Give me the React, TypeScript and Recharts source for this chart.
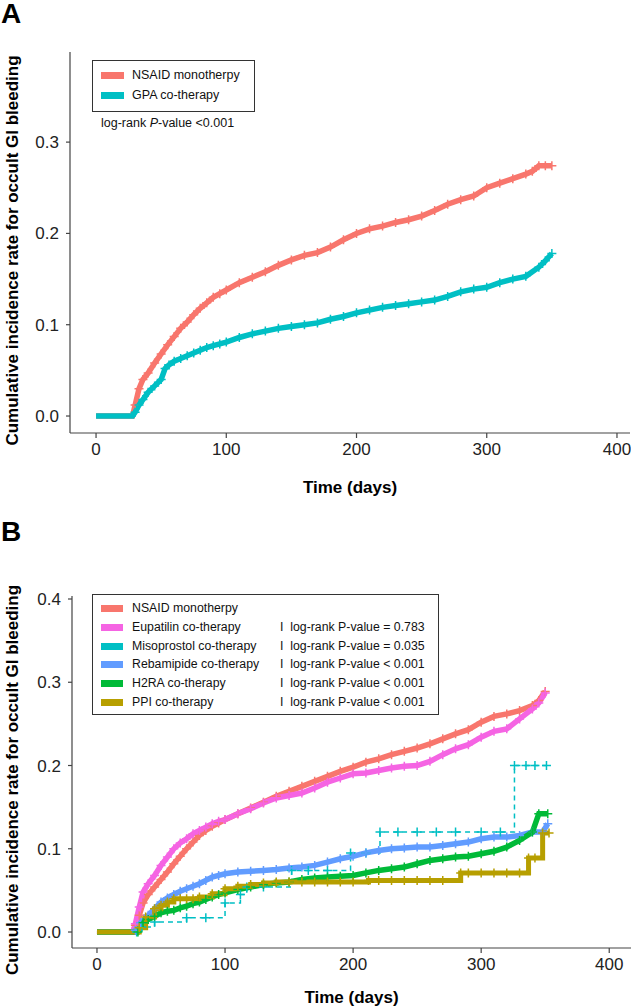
import React from "react";
import { LineChart, Line, XAxis, YAxis, Legend, Label } from "recharts";

const FONT = '"Liberation Sans", Arial, Helvetica, sans-serif';

// ---- axes ----
const xTicks = [0, 100, 200, 300, 400];
const yTicksA = [0, 0.1, 0.2, 0.3];
const yTicksB = [0, 0.1, 0.2, 0.3, 0.4];

// ---- panel A: [day, cumulative incidence] ----
const nsaidA: [number, number][] = [
  [0, 0], [28, 0], [30, 0.012], [33, 0.03], [36, 0.04], [40, 0.047], [45, 0.058],
  [50, 0.068], [55, 0.078], [60, 0.087], [65, 0.096], [70, 0.103], [75, 0.111],
  [80, 0.118], [85, 0.124], [90, 0.13], [95, 0.134], [100, 0.138], [110, 0.146],
  [120, 0.152], [130, 0.158], [140, 0.165], [150, 0.171], [160, 0.176], [170, 0.179],
  [180, 0.185], [190, 0.193], [200, 0.2], [210, 0.205], [220, 0.208], [230, 0.212],
  [240, 0.215], [250, 0.219], [260, 0.225], [270, 0.232], [280, 0.237], [290, 0.241],
  [300, 0.25], [310, 0.255], [320, 0.26], [330, 0.265], [335, 0.268], [340, 0.274],
  [345, 0.274], [350, 0.274],
];
const gpaA: [number, number][] = [
  [0, 0], [28, 0], [30, 0.004], [33, 0.012], [36, 0.018], [40, 0.026], [45, 0.033],
  [50, 0.04], [53, 0.052], [56, 0.056], [60, 0.06], [65, 0.063], [70, 0.066],
  [75, 0.069], [80, 0.072], [85, 0.075], [90, 0.077], [95, 0.079], [100, 0.081],
  [110, 0.086], [120, 0.09], [130, 0.093], [140, 0.096], [150, 0.098], [160, 0.1],
  [170, 0.102], [180, 0.106], [190, 0.109], [200, 0.113], [210, 0.116], [220, 0.119],
  [230, 0.121], [240, 0.123], [250, 0.125], [260, 0.127], [270, 0.131], [280, 0.136],
  [290, 0.139], [300, 0.141], [310, 0.146], [320, 0.15], [330, 0.153], [340, 0.163],
  [345, 0.17], [350, 0.178],
];

// ---- panel B ----
const nsaidB: [number, number][] = [
  [0, 0], [28, 0], [30, 0.008], [33, 0.02], [36, 0.035], [40, 0.045], [45, 0.054],
  [50, 0.063], [55, 0.072], [60, 0.082], [65, 0.091], [70, 0.1], [75, 0.108],
  [80, 0.116], [85, 0.122], [90, 0.127], [95, 0.131], [100, 0.135], [110, 0.142],
  [120, 0.149], [130, 0.156], [140, 0.163], [150, 0.169], [160, 0.175], [170, 0.181],
  [180, 0.187], [190, 0.193], [200, 0.198], [210, 0.204], [220, 0.208], [230, 0.213],
  [240, 0.217], [250, 0.221], [260, 0.226], [270, 0.232], [280, 0.238], [290, 0.243],
  [300, 0.252], [310, 0.259], [320, 0.262], [330, 0.266], [340, 0.272], [345, 0.278],
  [350, 0.289],
];
const eupatilinB: [number, number][] = [
  [0, 0], [28, 0], [30, 0.01], [33, 0.03], [36, 0.048], [40, 0.058], [45, 0.068],
  [50, 0.08], [55, 0.09], [60, 0.1], [65, 0.107], [70, 0.112], [75, 0.118],
  [80, 0.122], [85, 0.126], [90, 0.13], [95, 0.133], [100, 0.135], [110, 0.142],
  [120, 0.148], [130, 0.155], [140, 0.161], [150, 0.164], [160, 0.167], [170, 0.173],
  [180, 0.18], [190, 0.185], [200, 0.19], [210, 0.191], [220, 0.194], [230, 0.197],
  [240, 0.199], [250, 0.2], [260, 0.205], [270, 0.213], [280, 0.22], [290, 0.225],
  [300, 0.234], [310, 0.241], [320, 0.244], [330, 0.256], [340, 0.268], [345, 0.275],
  [350, 0.287],
];
const misoprostolB: [number, number][] = [
  [0, 0], [28, 0], [31, 0], [35, 0.006], [45, 0.012], [70, 0.017], [85, 0.017],
  [100, 0.035], [112, 0.045], [117, 0.054], [130, 0.054], [152, 0.074], [165, 0.074],
  [180, 0.074], [198, 0.095], [210, 0.095], [221, 0.12], [235, 0.12], [250, 0.12],
  [265, 0.12], [280, 0.12], [300, 0.12], [315, 0.12], [326, 0.2], [335, 0.2],
  [342, 0.2], [351, 0.2],
];
const rebamipideB: [number, number][] = [
  [0, 0], [28, 0], [30, 0.002], [34, 0.011], [40, 0.02], [45, 0.028], [50, 0.036],
  [55, 0.041], [60, 0.045], [65, 0.049], [70, 0.052], [75, 0.055], [80, 0.058],
  [85, 0.062], [90, 0.066], [95, 0.068], [100, 0.07], [110, 0.072], [120, 0.073],
  [130, 0.074], [140, 0.075], [150, 0.077], [160, 0.078], [170, 0.08], [180, 0.084],
  [190, 0.088], [200, 0.091], [210, 0.095], [220, 0.098], [230, 0.1], [240, 0.101],
  [250, 0.102], [260, 0.102], [270, 0.104], [280, 0.106], [290, 0.108], [300, 0.112],
  [310, 0.114], [320, 0.114], [330, 0.116], [340, 0.12], [348, 0.12], [352, 0.13],
];
const h2raB: [number, number][] = [
  [0, 0], [28, 0], [32, 0], [36, 0.011], [40, 0.015], [45, 0.019], [50, 0.023],
  [55, 0.025], [60, 0.026], [65, 0.029], [70, 0.031], [75, 0.034], [80, 0.036],
  [85, 0.039], [90, 0.042], [95, 0.045], [100, 0.047], [110, 0.051], [120, 0.054],
  [130, 0.057], [140, 0.059], [150, 0.06], [160, 0.063], [170, 0.065], [180, 0.066],
  [190, 0.067], [200, 0.068], [210, 0.071], [220, 0.074], [230, 0.076], [240, 0.078],
  [250, 0.082], [260, 0.086], [270, 0.088], [280, 0.09], [290, 0.091], [300, 0.094],
  [310, 0.097], [320, 0.102], [330, 0.11], [340, 0.12], [345, 0.142], [352, 0.142],
];
const ppiB: [number, number][] = [
  [0, 0], [28, 0], [33, 0.005], [38, 0.018], [45, 0.028], [50, 0.032], [55, 0.036],
  [60, 0.04], [65, 0.04], [70, 0.04], [75, 0.04], [80, 0.042], [90, 0.046],
  [100, 0.052], [110, 0.055], [120, 0.057], [130, 0.059], [140, 0.06], [150, 0.06],
  [160, 0.06], [170, 0.06], [180, 0.06], [190, 0.06], [200, 0.06], [212, 0.062],
  [220, 0.062], [230, 0.062], [240, 0.062], [250, 0.062], [260, 0.062], [270, 0.062],
  [284, 0.071], [290, 0.071], [300, 0.071], [310, 0.071], [320, 0.071], [330, 0.071],
  [337, 0.089], [342, 0.089], [348, 0.119], [353, 0.119],
];

const pValuesB = ["", "= 0.783", "= 0.035", "< 0.001", "< 0.001", "< 0.001"];

type Series = {
  name: string;
  color: string;
  data: [number, number][];
  width: number;
  curve: "linear" | "stepAfter";
  dash?: string;
};

const seriesA: Series[] = [
  { name: "NSAID monotherpy", color: "#F8766D", data: nsaidA, width: 5.5, curve: "linear" },
  { name: "GPA co-therapy", color: "#00BFC4", data: gpaA, width: 5.5, curve: "linear" },
];

const seriesB: Series[] = [
  { name: "NSAID monotherpy", color: "#F8766D", data: nsaidB, width: 5.5, curve: "linear" },
  { name: "Eupatilin co-therapy", color: "#F564E3", data: eupatilinB, width: 5.5, curve: "linear" },
  { name: "Misoprostol co-therapy", color: "#00BFC4", data: misoprostolB, width: 1.5, curve: "stepAfter", dash: "5 4" },
  { name: "Rebamipide co-therapy", color: "#619CFF", data: rebamipideB, width: 5.5, curve: "linear" },
  { name: "H2RA co-therapy", color: "#00BA38", data: h2raB, width: 5.5, curve: "linear" },
  { name: "PPI co-therapy", color: "#B79F00", data: ppiB, width: 5, curve: "stepAfter" },
];

const toPoints = (arr: [number, number][]) => arr.map(([day, v]) => ({ day, v }));

// censoring marks drawn as "+"
const plusDot = (color: string) => (props: any) => {
  const { cx, cy, index, payload } = props;
  if (cx == null || cy == null || (payload && payload.day < 29)) return <g key={index} />;
  const s = 4.5;
  return (
    <path
      key={index}
      d={`M${cx - s},${cy}H${cx + s}M${cx},${cy - s}V${cy + s}`}
      stroke={color}
      strokeWidth={1.5}
      fill="none"
    />
  );
};

const tickStyle = { fontFamily: FONT, fontSize: 17, fill: "#222" };
const axisLine = { stroke: "#444", strokeWidth: 1.2 };

const yTitle = "Cumulative incidence rate for occult GI bleeding";

const YTitle = (props: any) => {
  const vb = props.viewBox;
  const x = vb.x + 12;
  const y = vb.y + vb.height / 2 + 8;
  return (
    <text
      x={x}
      y={y}
      transform={`rotate(-90, ${x}, ${y})`}
      textAnchor="middle"
      dominantBaseline="central"
      style={{ fontFamily: FONT, fontSize: 17, fontWeight: 700, fill: "#000" }}
    >
      {yTitle}
    </text>
  );
};

const XTitle = (offset: number) => (props: any) => {
  const vb = props.viewBox;
  return (
    <text
      x={vb.x + vb.width / 2}
      y={vb.y + offset}
      textAnchor="middle"
      dominantBaseline="central"
      style={{ fontFamily: FONT, fontSize: 17, fontWeight: 700, fill: "#000" }}
    >
      Time (days)
    </text>
  );
};

function LegendA() {
  return (
    <div style={{ fontFamily: FONT, fontSize: 12.5, color: "#111" }}>
      <div style={{ position: "relative", width: 161, height: 50, border: "1.3px solid #333", background: "#fff" }}>
        {seriesA.map((s, i) => (
          <React.Fragment key={s.name}>
            <div style={{ position: "absolute", left: 8, top: 11 + i * 19.5, width: 23, height: 7, background: s.color }} />
            <div style={{ position: "absolute", left: 39, top: 6 + i * 19.5, lineHeight: "17px", whiteSpace: "nowrap" }}>
              {s.name}
            </div>
          </React.Fragment>
        ))}
      </div>
      <div style={{ marginTop: 3, marginLeft: 9, lineHeight: "17px", whiteSpace: "nowrap" }}>
        log-rank <i>P</i>-value &lt;0.001
      </div>
    </div>
  );
}

function LegendB() {
  return (
    <div style={{ fontFamily: FONT, fontSize: 12.3, color: "#111" }}>
      <div style={{ position: "relative", width: 345, height: 119, border: "1.3px solid #333", background: "#fff" }}>
        {seriesB.map((s, i) => (
          <React.Fragment key={s.name}>
            <div style={{ position: "absolute", left: 8, top: 10 + i * 18.8, width: 22, height: 7, background: s.color }} />
            <div style={{ position: "absolute", left: 39, top: 5 + i * 18.8, lineHeight: "17px", whiteSpace: "nowrap" }}>
              {s.name}
            </div>
            {pValuesB[i] && (
              <div style={{ position: "absolute", left: 187, top: 5 + i * 18.8, lineHeight: "17px", whiteSpace: "nowrap" }}>
                I&nbsp; log-rank P-value {pValuesB[i]}
              </div>
            )}
          </React.Fragment>
        ))}
      </div>
    </div>
  );
}

const panelLetter: React.CSSProperties = {
  position: "absolute",
  left: 1,
  fontFamily: FONT,
  fontSize: 28,
  fontWeight: 700,
  lineHeight: "28px",
  color: "#000",
};

export default function App() {
  return (
    <div style={{ position: "absolute", left: 0, top: 0, width: 631, height: 1007, background: "#fff" }}>
      <div style={{ ...panelLetter, top: 0 }}>A</div>
      <div style={{ position: "absolute", left: 0, top: 0 }}>
        <LineChart width={631} height={500} margin={{ top: 52, right: 1, bottom: 0, left: 0 }}>
          <XAxis
            type="number"
            dataKey="day"
            domain={[-20, 410]}
            ticks={xTicks}
            allowDataOverflow
            height={67}
            tick={tickStyle}
            tickSize={5}
            tickMargin={5}
            axisLine={axisLine}
            tickLine={axisLine}
          >
            <Label content={XTitle(54)} />
          </XAxis>
          <YAxis
            type="number"
            domain={[-0.0186, 0.3987]}
            ticks={yTicksA}
            allowDataOverflow
            width={70}
            tick={tickStyle}
            tickFormatter={(v: number) => v.toFixed(1)}
            tickSize={4}
            tickMargin={7}
            axisLine={axisLine}
            tickLine={axisLine}
          >
            <Label content={YTitle} />
          </YAxis>
          <Legend
            layout="vertical"
            align="center"
            verticalAlign="middle"
            content={() => <LegendA />}
            wrapperStyle={{ left: 92, top: 60, width: "auto", height: "auto" }}
          />
          {seriesA.map((s) => (
            <Line
              key={s.name}
              data={toPoints(s.data)}
              dataKey="v"
              type={s.curve}
              stroke={s.color}
              strokeWidth={s.width}
              strokeDasharray={s.dash}
              dot={plusDot(s.color)}
              activeDot={false}
              isAnimationActive={false}
            />
          ))}
        </LineChart>
      </div>

      <div style={{ ...panelLetter, top: 518 }}>B</div>
      <div style={{ position: "absolute", left: 0, top: 500 }}>
        <LineChart width={631} height={507} margin={{ top: 96, right: 0, bottom: 0, left: 0 }}>
          <XAxis
            type="number"
            dataKey="day"
            domain={[-19.5, 417]}
            ticks={xTicks}
            allowDataOverflow
            height={59}
            tick={tickStyle}
            tickSize={5}
            tickMargin={5}
            axisLine={axisLine}
            tickLine={axisLine}
          >
            <Label content={XTitle(49)} />
          </XAxis>
          <YAxis
            type="number"
            domain={[-0.0192, 0.4036]}
            ticks={yTicksB}
            allowDataOverflow
            width={72}
            tick={tickStyle}
            tickFormatter={(v: number) => v.toFixed(1)}
            tickSize={4}
            tickMargin={7}
            axisLine={axisLine}
            tickLine={axisLine}
          >
            <Label content={YTitle} />
          </YAxis>
          <Legend
            layout="vertical"
            align="center"
            verticalAlign="middle"
            content={() => <LegendB />}
            wrapperStyle={{ left: 92, top: 94, width: "auto", height: "auto" }}
          />
          {seriesB.map((s) => (
            <Line
              key={s.name}
              data={toPoints(s.data)}
              dataKey="v"
              type={s.curve}
              stroke={s.color}
              strokeWidth={s.width}
              strokeDasharray={s.dash}
              dot={plusDot(s.color)}
              activeDot={false}
              isAnimationActive={false}
            />
          ))}
        </LineChart>
      </div>
    </div>
  );
}
